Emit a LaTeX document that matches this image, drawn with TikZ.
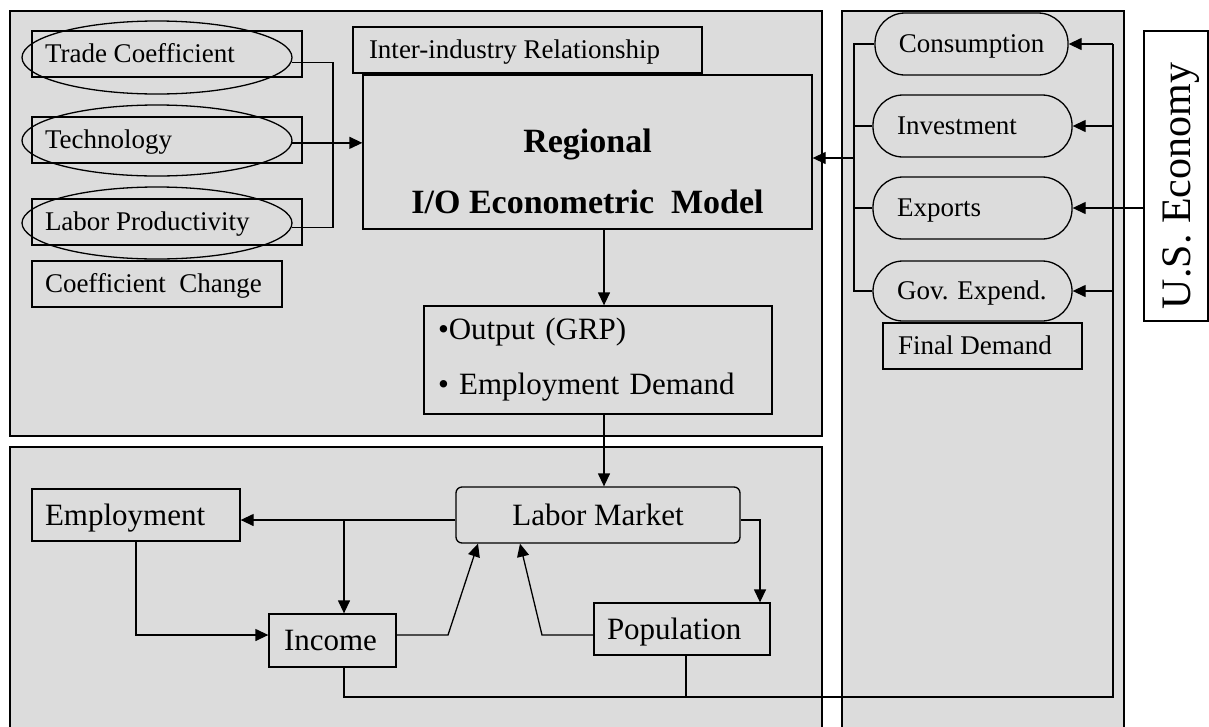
\documentclass[tikz,border=0pt]{standalone}
\usepackage{fontspec}
\setmainfont{Liberation Serif}
\usetikzlibrary{arrows.meta,shapes.geometric}
\definecolor{panel}{HTML}{DCDCDC}
\newcommand\lefttxt[2]{\makebox[#1][l]{#2}}
\begin{document}
\begin{tikzpicture}[x=1pt,y=-1pt,line width=1.3pt,
  arr/.style={-{Triangle[length=13pt,width=12pt]}},
  panelbox/.style={draw,fill=panel},
  lbox/.style={draw,rectangle,inner ysep=0pt,text height=17.8pt,text depth=0pt,font=\fontsize{27}{32}\selectfont},
  bbox/.style={draw,rectangle,inner ysep=0pt,text height=20.5pt,text depth=0pt,font=\fontsize{31}{36}\selectfont},
  pill/.style={draw,rectangle,rounded corners=30pt,inner ysep=0pt,minimum height=62pt,text height=17.8pt,text depth=0pt,font=\fontsize{27}{32}\selectfont},
  oval/.style={draw,ellipse,inner sep=0pt}]
\useasboundingbox (0,0) rectangle (1209,726);
\clip (0,0) rectangle (1209,726);
% panels
\draw[panelbox] (10,11) rectangle (822,436);
\draw[panelbox] (10,447) rectangle (822,770);
\draw[panelbox] (842,11) rectangle (1124,770);
% top-left
\node[lbox,inner xsep=13pt,minimum height=46pt] (tc) at (167,54) {\lefttxt{244pt}{Trade Coefficient}};
\node[lbox,inner xsep=13pt,minimum height=46pt] (tech) at (167,140) {\lefttxt{244pt}{Technology}};
\node[lbox,inner xsep=13pt,minimum height=46pt] (lp) at (167,222) {\lefttxt{244pt}{Labor Productivity}};
\node[oval,minimum width=270pt,minimum height=73pt] (e1) at (157,57.5) {};
\node[oval,minimum width=270pt,minimum height=71pt] (e2) at (157,140.5) {};
\node[oval,minimum width=270pt,minimum height=72pt] (e3) at (157,223) {};
\node[lbox,inner xsep=13pt,minimum height=46pt] (cc) at (157,284) {\lefttxt{224pt}{Coefficient\ \ Change}};
\node[lbox,inner xsep=16pt,minimum height=46pt] (ir) at (527.5,50) {\lefttxt{317pt}{Inter-industry Relationship}};
\node[draw,rectangle,minimum width=449pt,minimum height=154pt] (reg) at (587.5,152) {};
\node[align=center,font=\fontsize{34}{61}\selectfont\bfseries] (regt) at (587.5,171) {Regional\\I/O Econometric\ \ Model};
\node[draw,rectangle,inner xsep=14pt,inner ysep=0pt,text width=320pt,align=left,minimum height=108pt,font=\fontsize{31}{55}\selectfont] (out) at (598,360) {•Output (GRP)\\• Employment Demand};
% right column
\node[pill,inner xsep=23pt] (cons) at (971.5,44) {\makebox[147pt][c]{Consumption}};
\node[pill,inner xsep=24pt] (inv) at (972.5,126) {\lefttxt{151pt}{Investment}};
\node[pill,inner xsep=24pt] (exp) at (972.5,208) {\lefttxt{151pt}{Exports}};
\node[pill,inner xsep=24pt,minimum height=60pt] (gov) at (972.5,291) {\lefttxt{151pt}{Gov. Expend.}};
\node[lbox,inner xsep=15pt,minimum height=46pt] (fd) at (982.5,346) {\lefttxt{169pt}{Final Demand}};
\node[draw,rectangle,fill=white,minimum width=64pt,minimum height=290pt] (us) at (1176,176) {};
\node[rotate=90,font=\fontsize{42}{46}\selectfont] (ust) at (1181,186) {U.S. Economy};
% bottom
\node[bbox,inner xsep=13pt,minimum height=52pt] (emp) at (136,515) {\lefttxt{182pt}{Employment}};
\node[bbox,inner xsep=15pt,minimum height=53pt] (inc) at (332.5,640.5) {\lefttxt{97pt}{Income}};
\node[bbox,rounded corners=6pt,minimum width=284pt,minimum height=56pt] (lm) at (598,515) {Labor Market};
\node[bbox,inner xsep=13pt,minimum height=52pt] (pop) at (682,629) {\lefttxt{150pt}{Population}};
% connectors top-left
\coordinate (j1) at (333,0);
\draw (e1.-2) -| (e3.-2 -| j1) -- (e3.-2);
\draw[arr] (e2.-1) -- (e2.-1 -| reg.west);
\coordinate (cx) at (604,0);
\draw[arr] (reg.south -| cx) -- (out.north -| cx);
\draw[arr] (out.south -| cx) -- (lm.north -| cx);
% right column connectors
\coordinate (lb) at (854,158);
\draw (cons.west) -- (cons.west -| lb) -- (gov.west -| lb) -- (gov.west);
\draw (inv.west) -- (inv.west -| lb);
\draw (exp.west) -- (exp.west -| lb);
\draw[arr] (lb) -- (lb -| reg.east);
\coordinate (rb) at (1113,697);
\coordinate (c3) at (344,520);
\draw (inc.south -| c3) |- (rb) -- (rb |- cons.east);
\draw[arr] (cons.east -| rb) -- (cons.east);
\draw[arr] (inv.east -| rb) -- (inv.east);
\draw[arr] (gov.east -| rb) -- (gov.east);
\draw[arr] (us.west |- exp.east) -- (exp.east);
\coordinate (c6) at (686,0);
\draw (pop.south -| c6) -- (c6 |- rb);
% bottom connectors
\coordinate (c2) at (0,520);
\draw[arr] (lm.west |- c2) -- (emp.east |- c2);
\draw[arr] (c3) -- (c3 |- inc.north);
\coordinate (c4) at (0,635);
\draw[arr] (emp.south) |- (inc.west |- c4);
\coordinate (b1) at (448,635);
\coordinate (b2) at (542,635);
\draw[arr] (inc.east |- b1) -- (b1) -- ([xshift=-120pt]lm.south);
\draw[arr] (pop.west |- b2) -- (b2) -- ([xshift=-78pt]lm.south);
\draw[arr] (lm.east |- c2) -| ([xshift=78pt]pop.north);
\end{tikzpicture}
\end{document}
